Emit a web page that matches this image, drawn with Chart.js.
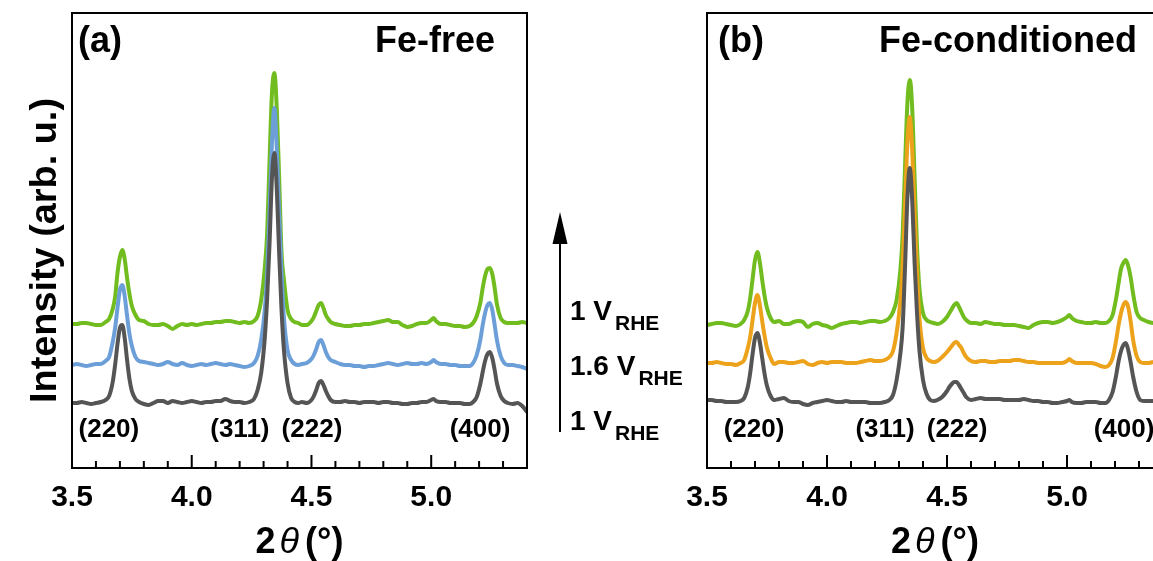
<!DOCTYPE html>
<html>
<head>
<meta charset="utf-8">
<title>XRD Fe-free / Fe-conditioned</title>
<script src="https://cdn.jsdelivr.net/npm/chart.js@4.4.1/dist/chart.umd.min.js"></script>
<style>
  html, body { margin: 0; padding: 0; background: #fff; overflow: hidden; }
  .painel { position: absolute; top: 0; height: 561px; }
  #painelA { left: 0; width: 700px; }
  #painelB { left: 640px; width: 530px; }
</style>
</head>
<body>
<div class="painel" id="painelA"><canvas id="graficoA"></canvas></div>
<div class="painel" id="painelB"><canvas id="graficoB"></canvas></div>
<script>
// 2theta grid shared by every trace (denser around the peaks)
const twoTheta = [
  3.50, 3.52, 3.54, 3.56, 3.58, 3.60, 3.62,
  3.64, 3.655, 3.67, 3.68, 3.69, 3.70, 3.71, 3.72, 3.73, 3.74, 3.75, 3.765, 3.78,
  3.80, 3.82, 3.84, 3.86, 3.88, 3.90, 3.92, 3.94, 3.96, 3.98, 4.00, 4.02, 4.04, 4.06, 4.08, 4.10, 4.12, 4.14, 4.16, 4.18, 4.20, 4.22, 4.24,
  4.26, 4.275, 4.29, 4.305, 4.315, 4.325, 4.335, 4.345, 4.355, 4.365, 4.375, 4.385, 4.40, 4.415, 4.43, 4.445,
  4.46, 4.48, 4.50, 4.51, 4.52, 4.53, 4.54, 4.55, 4.56, 4.57, 4.58, 4.60,
  4.62, 4.64, 4.66, 4.68, 4.70, 4.72, 4.74, 4.76, 4.78, 4.80, 4.82, 4.84, 4.86, 4.88, 4.90, 4.92, 4.94, 4.96, 4.98, 5.00, 5.01, 5.02, 5.04, 5.06, 5.08, 5.10, 5.12, 5.14, 5.16,
  5.175, 5.19, 5.205, 5.215, 5.225, 5.235, 5.245, 5.255, 5.265, 5.275, 5.29, 5.305, 5.32,
  5.34, 5.36, 5.38, 5.40
];

// (a) Fe-free
const freeStart = [ // 1 V (first)
  65, 65, 66, 65, 64, 65, 66,
  68, 72, 86, 103, 124, 140, 143, 130, 108, 89, 77, 69, 66,
  64, 63, 65, 67, 67, 65, 67, 66, 65, 66, 67, 66, 65, 66, 66, 67, 67, 69, 67, 66, 66, 65, 66,
  69, 78, 95, 130, 170, 225, 290, 315, 280, 215, 158, 118, 85, 70, 66, 65,
  66, 65, 68, 72, 78, 85, 87, 83, 77, 72, 68, 66,
  66, 67, 66, 66, 65, 66, 66, 66, 65, 66, 66, 65, 65, 64, 64, 65, 65, 66, 66, 68, 69, 67, 66, 66, 65, 65, 65, 64, 64,
  66, 71, 84, 96, 107, 114, 116, 110, 98, 84, 72, 67, 65,
  64, 65, 62, 56
];
const free16 = [ // 1.6 V
  103, 104, 103, 102, 103, 104, 104,
  107, 111, 126, 140, 160, 178, 183, 172, 152, 134, 122, 111, 107,
  106, 105, 104, 103, 104, 106, 104, 103, 105, 103, 102, 103, 104, 103, 104, 105, 104, 103, 104, 103, 102, 101, 102,
  105, 112, 128, 158, 195, 255, 325, 360, 320, 255, 195, 150, 118, 108, 104, 103,
  104, 105, 109, 113, 119, 126, 128, 123, 116, 111, 108, 106,
  104, 103, 103, 102, 102, 101, 102, 102, 103, 104, 105, 104, 103, 104, 105, 104, 104, 105, 104, 106, 108, 106, 104, 104, 103, 103, 102, 102, 102,
  105, 113, 128, 143, 155, 163, 165, 158, 143, 127, 112, 105, 103,
  103, 102, 101, 99
];
const freeEnd = [ // 1 V (after)
  144, 144, 145, 145, 144, 143, 143,
  146, 149, 159, 171, 195, 211, 218, 209, 190, 174, 162, 153, 148,
  147, 144, 143, 143, 144, 142, 139, 142, 144, 143, 144, 143, 144, 145, 145, 146, 146, 147, 147, 146, 145, 146, 145,
  147, 152, 168, 200, 235, 308, 375, 395, 360, 290, 215, 188, 158, 149, 146, 145,
  143, 143, 147, 151, 157, 163, 165, 160, 153, 149, 146, 144,
  143, 142, 142, 143, 143, 144, 144, 145, 146, 147, 148, 146, 146, 143, 141, 142, 144, 145, 145, 148, 150, 147, 144, 144, 143, 142, 142, 141, 142,
  145, 152, 165, 180, 192, 199, 200, 194, 180, 163, 150, 146, 145,
  145, 145, 146, 145
];

// (b) Fe-conditioned
const condStart = [
  68, 68, 67, 67, 66, 66, 66,
  67, 70, 81, 95, 114, 130, 135, 126, 110, 94, 82, 72, 68,
  69, 70, 67, 66, 66, 64, 63, 65, 66, 67, 68, 67, 66, 66, 67, 66, 66, 66, 66, 65, 65, 65, 66,
  68, 73, 88, 113, 140, 200, 270, 300, 268, 205, 155, 118, 88, 74, 68, 67,
  68, 71, 77, 81, 84, 86, 86, 83, 79, 75, 71, 68,
  69, 70, 69, 69, 69, 69, 68, 68, 68, 68, 69, 68, 67, 67, 66, 66, 65, 65, 66, 67, 68, 66, 65, 65, 66, 66, 66, 65, 65,
  68, 76, 93, 107, 117, 123, 125, 118, 106, 92, 76, 68, 67,
  67, 67, 66, 66
];
const cond16 = [
  105, 105, 106, 105, 104, 104, 103,
  105, 108, 120, 131, 148, 165, 173, 163, 147, 132, 120, 110, 104,
  106, 106, 105, 105, 106, 107, 104, 103, 105, 106, 105, 106, 106, 106, 105, 105, 105, 106, 107, 108, 107, 107, 108,
  111, 117, 135, 165, 200, 260, 325, 351, 318, 255, 195, 150, 120, 110, 107, 106,
  107, 111, 116, 119, 122, 125, 126, 123, 120, 115, 111, 107,
  106, 107, 107, 106, 106, 107, 107, 107, 108, 108, 107, 106, 106, 105, 105, 105, 105, 105, 105, 107, 109, 107, 105, 105, 105, 105, 104, 102, 101,
  103, 110, 128, 143, 155, 163, 166, 161, 147, 129, 112, 106, 105,
  105, 106, 106, 106
];
const condEnd = [
  143, 144, 145, 145, 144, 143, 142,
  144, 148, 157, 170, 189, 208, 216, 206, 188, 172, 160, 150, 146,
  147, 144, 144, 146, 147, 146, 141, 144, 145, 143, 142, 140, 142, 144, 145, 146, 146, 145, 146, 147, 147, 146, 147,
  150, 156, 168, 196, 232, 300, 365, 388, 360, 290, 222, 180, 155, 148, 146, 145,
  144, 146, 151, 155, 159, 163, 165, 161, 156, 151, 148, 145,
  145, 144, 146, 145, 144, 144, 143, 143, 143, 142, 141, 140, 143, 145, 146, 146, 145, 146, 148, 151, 153, 150, 147, 146, 145, 145, 146, 145, 145,
  147, 153, 170, 185, 199, 205, 208, 202, 191, 175, 156, 150, 148,
  146, 145, 145, 145
];

const xTicks = [3.5, 4.0, 4.5, 5.0];
const xMinorTicks = [3.6, 3.7, 3.8, 3.9, 4.1, 4.2, 4.3, 4.4, 4.6, 4.7, 4.8, 4.9, 5.1, 5.2, 5.3];
const peakNames = ["(220)", "(311)", "(222)", "(400)"];
const peakPosA = [3.654, 4.201, 4.502, 5.204];
const peakPosB = [3.696, 4.242, 4.542, 5.2375];
const potentials = ["1", "1.6", "1"];

const fonte = '"Liberation Sans", Arial, sans-serif';
const corCinza = "#555555";
const corVerde = "#71bc1e";
const corAzul = "#6c9fd8";
const corLaranja = "#eca31b";

function escrever(ctx, str, x, y, font, align) {
  ctx.font = font;
  ctx.textAlign = align || "left";
  ctx.textBaseline = "alphabetic";
  ctx.fillText(str, x, y);
}

// frame, inward ticks and all annotations
function decoracao(cfg) {
  return {
    id: "decoracao",
    afterDatasetsDraw(chart) {
      const { ctx, chartArea: a, scales: { x } } = chart;
      ctx.save();
      ctx.strokeStyle = "#000";
      ctx.fillStyle = "#000";
      ctx.lineWidth = 2;

      ctx.beginPath();
      xMinorTicks.forEach(v => {
        const px = x.getPixelForValue(v);
        ctx.moveTo(px, a.bottom); ctx.lineTo(px, a.bottom - 7);
      });
      xTicks.forEach(v => {
        const px = x.getPixelForValue(v);
        ctx.moveTo(px, a.bottom); ctx.lineTo(px, a.bottom - 13);
      });
      ctx.stroke();
      ctx.strokeRect(a.left, a.top, a.right - a.left, a.bottom - a.top);

      // panel letter and title
      escrever(ctx, cfg.letra, a.left + cfg.letraDx, 52, `bold 36px ${fonte}`);
      escrever(ctx, cfg.titulo, a.left + cfg.tituloDx, 52, `bold 36px ${fonte}`, "right");

      // hkl labels
      peakNames.forEach((n, i) => {
        escrever(ctx, n, x.getPixelForValue(cfg.picos[i]), 437, `bold 26px ${fonte}`, "center");
      });

      // x title: 2θ (°)
      const fB = `bold 36px ${fonte}`, fI = `italic 36px ${fonte}`;
      ctx.font = fB; const w2 = ctx.measureText("2").width;
      ctx.font = fI; const wT = ctx.measureText("θ").width;
      ctx.font = fB; const wP = ctx.measureText("(°)").width;
      const total = w2 + wT + wP + 10;
      let cx = (a.left + a.right) / 2 - total / 2;
      escrever(ctx, "2", cx, 553, fB); cx += w2 + 4;
      escrever(ctx, "θ", cx, 553, fI); cx += wT + 6;
      escrever(ctx, "(°)", cx, 553, fB);

      if (cfg.eixoY) {
        ctx.save();
        ctx.translate(56, 250.5);
        ctx.rotate(-Math.PI / 2);
        ctx.font = `bold 36px ${fonte}`;
        const t = "Intensity (arb. u.)";
        const wt = ctx.measureText(t).width;
        ctx.scale(305 / wt, 1);
        ctx.textAlign = "center";
        ctx.fillText(t, 0, 0);
        ctx.restore();

        // arrow + potential sequence between the panels
        ctx.beginPath();
        ctx.moveTo(560, 432); ctx.lineTo(560, 240);
        ctx.stroke();
        ctx.beginPath();
        ctx.moveTo(560, 212); ctx.lineTo(567.5, 244); ctx.lineTo(552.5, 244);
        ctx.closePath(); ctx.fill();

        const bases = [320, 375, 430];
        potentials.forEach((p, i) => {
          const main = p + " V";
          escrever(ctx, main, 570, bases[i], `bold 28px ${fonte}`);
          const w = ctx.measureText(main).width;
          escrever(ctx, "RHE", 570 + w + 3, bases[i] + 10, `bold 21px ${fonte}`);
        });
      }
      ctx.restore();
    }
  };
}

function criarGrafico(id, series, cores, cfg) {
  return new Chart(document.getElementById(id), {
    type: "line",
    data: {
      datasets: series.map((s, i) => ({
        data: twoTheta.map((t, k) => ({ x: t, y: s[k] })),
        borderColor: cores[i],
        borderWidth: 4,
        pointRadius: 0,
        fill: false,
        cubicInterpolationMode: "monotone"
      }))
    },
    options: {
      responsive: true,
      maintainAspectRatio: false,
      animation: false,
      devicePixelRatio: 1,
      layout: { padding: { left: cfg.padLeft, right: cfg.padRight, top: 13, bottom: 0 } },
      plugins: { legend: { display: false }, tooltip: { enabled: false } },
      scales: {
        x: {
          type: "linear",
          min: 3.5,
          max: 5.4,
          grid: { display: false, drawTicks: false },
          border: { display: false },
          afterBuildTicks: s => { s.ticks = xTicks.map(v => ({ value: v })); },
          afterFit: s => { s.height = 93; },
          ticks: {
            padding: 12,
            color: "#000",
            autoSkip: false,
            maxRotation: 0,
            font: { family: fonte, size: 30, weight: "bold" },
            callback: v => Number(v).toFixed(1)
          }
        },
        y: { display: false, min: 0, max: 455 }
      }
    },
    plugins: [decoracao(cfg)]
  });
}

// dataset 0 is drawn on top
criarGrafico("graficoA", [freeStart, free16, freeEnd], [corCinza, corAzul, corVerde], {
  padLeft: 72, padRight: 173, letra: "(a)", letraDx: 6, titulo: "Fe-free", tituloDx: 423,
  picos: peakPosA, eixoY: true
});
criarGrafico("graficoB", [condStart, cond16, condEnd], [corCinza, corLaranja, corVerde], {
  padLeft: 67, padRight: 7, letra: "(b)", letraDx: 11, titulo: "Fe-conditioned", tituloDx: 430,
  picos: peakPosB, eixoY: false
});
</script>
</body>
</html>
